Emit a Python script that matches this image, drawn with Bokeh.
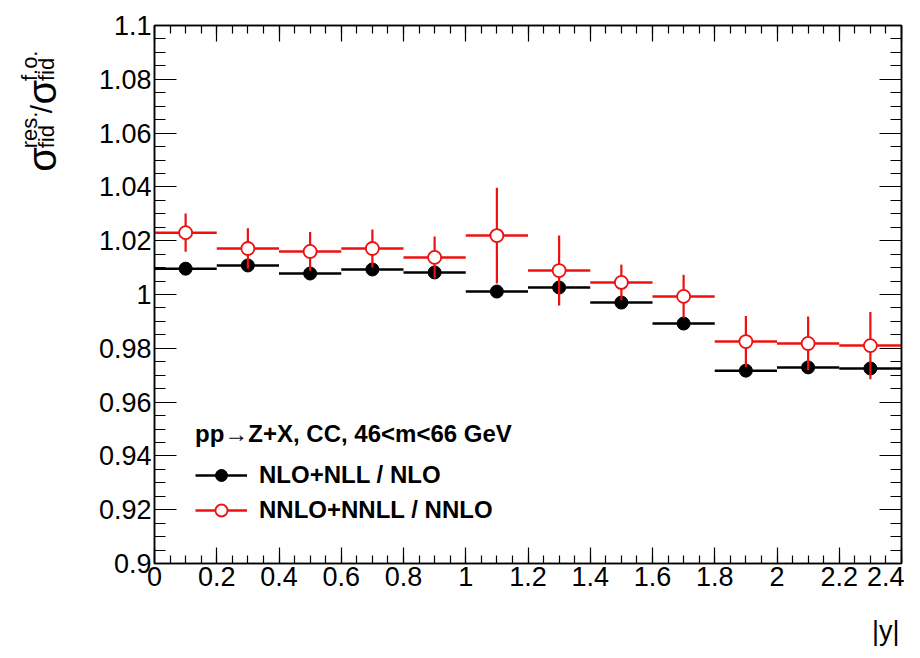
import numpy as np
from bokeh.plotting import figure
from bokeh.layouts import row, column
from bokeh.models import (Range1d, LinearAxis, FixedTicker, Label, Legend,
                          LegendItem, ColumnDataSource)
from bokeh.embed import file_html
from bokeh.resources import INLINE

# ---------------- data ----------------
bin_low = [0.0, 0.2, 0.4, 0.6, 0.8, 1.0, 1.2, 1.4, 1.6, 1.8, 2.0, 2.2]
bin_high = [0.2, 0.4, 0.6, 0.8, 1.0, 1.2, 1.4, 1.6, 1.8, 2.0, 2.2, 2.4]
bin_center = [0.1, 0.3, 0.5, 0.7, 0.9, 1.1, 1.3, 1.5, 1.7, 1.9, 2.1, 2.3]

nlo_nll_ratio = [1.0096, 1.0108, 1.0078, 1.0093, 1.0082, 1.0011,
                 1.0026, 0.9970, 0.9892, 0.9717, 0.9729, 0.9725]
nnlo_nnll_ratio = [1.0230, 1.0171, 1.0160, 1.0171, 1.0138, 1.0219,
                   1.0089, 1.0045, 0.9993, 0.9825, 0.9818, 0.9810]
nnlo_nnll_err = [0.0071, 0.0075, 0.0072, 0.0071, 0.0078, 0.0178,
                 0.0130, 0.0066, 0.0080, 0.0095, 0.0100, 0.0125]

x_ticks = [0.0, 0.2, 0.4, 0.6, 0.8, 1.0, 1.2, 1.4, 1.6, 1.8, 2.0, 2.2, 2.4]
x_tick_labels = ["0", "0.2", "0.4", "0.6", "0.8", "1", "1.2", "1.4", "1.6",
                 "1.8", "2", "2.2", "2.4"]
y_ticks = [0.9, 0.92, 0.94, 0.96, 0.98, 1.0, 1.02, 1.04, 1.06, 1.08, 1.1]
y_tick_labels = ["0.9", "0.92", "0.94", "0.96", "0.98", "1", "1.02", "1.04",
                 "1.06", "1.08", "1.1"]

legend_title = "pp\u2192Z+X, CC, 46<m<66 GeV"
label_nlo = "NLO+NLL / NLO"
label_nnlo = "NNLO+NNLL / NNLO"
x_title = "|y|"
# y title: sigma^{res.}_{fid} / sigma^{f.o.}_{fid}
y_title_parts = ["\u03c3", "res.", "fid", "/", "\u03c3", "f.o.", "fid"]

RED = "#ee1010"
FONT = "Liberation Sans"

x_minor = [round(v, 3) for v in np.arange(0.0, 2.4001, 0.05)]
y_minor = [round(v, 4) for v in np.arange(0.9, 1.10001, 0.005)]

MAIN_H = 600
LEFT_W = 84
# ---------------- main figure ----------------
p = figure(width=904 - LEFT_W, height=MAIN_H, x_range=Range1d(0, 2.4),
           y_range=Range1d(0.9, 1.1), output_backend="svg",
           toolbar_location=None, min_border_left=154 - LEFT_W,
           min_border_right=3, min_border_top=25,
           min_border_bottom=MAIN_H - 563)
p.xgrid.visible = False
p.ygrid.visible = False
p.outline_line_color = "black"
p.outline_line_width = 1.5
p.background_fill_color = "white"
p.border_fill_color = "white"


def style_axis(ax, ticks, minor, labels, major_len, minor_len, show_labels):
    ax.ticker = FixedTicker(ticks=ticks, minor_ticks=minor)
    ax.major_tick_in = major_len
    ax.major_tick_out = 0
    ax.minor_tick_in = minor_len
    ax.minor_tick_out = 0
    ax.major_tick_line_color = "black"
    ax.minor_tick_line_color = "black"
    ax.major_tick_line_width = 1.2
    ax.minor_tick_line_width = 1.2
    ax.axis_line_color = "black"
    ax.axis_line_width = 1.5
    ax.major_label_text_font = FONT
    ax.major_label_text_color = "black"
    if show_labels:
        ax.major_label_text_font_size = "27px"
        ax.major_label_standoff = 3
        ax.major_label_overrides = {t: l for t, l in zip(ticks, labels)}
    else:
        ax.major_label_text_font_size = "0px"
        ax.major_label_standoff = 0
        ax.major_label_overrides = {t: "" for t in ticks}


style_axis(p.xaxis[0], x_ticks, x_minor, x_tick_labels, 16, 8, True)
style_axis(p.yaxis[0], y_ticks, y_minor, y_tick_labels, 22, 11, True)

top_ax = LinearAxis()
style_axis(top_ax, x_ticks, x_minor, x_tick_labels, 16, 8, False)
p.add_layout(top_ax, "above")
right_ax = LinearAxis()
style_axis(right_ax, y_ticks, y_minor, y_tick_labels, 22, 11, False)
p.add_layout(right_ax, "right")

# ---------------- glyphs ----------------
src_nlo = ColumnDataSource(dict(x=bin_center, lo=bin_low, hi=bin_high,
                                y=nlo_nll_ratio))
src_nnlo = ColumnDataSource(dict(
    x=bin_center, lo=bin_low, hi=bin_high, y=nnlo_nnll_ratio,
    ylo=[v - e for v, e in zip(nnlo_nnll_ratio, nnlo_nnll_err)],
    yhi=[v + e for v, e in zip(nnlo_nnll_ratio, nnlo_nnll_err)]))

r_nlo_line = p.segment(x0="lo", y0="y", x1="hi", y1="y", source=src_nlo,
                       line_color="black", line_width=2.5)
r_nlo_pts = p.scatter("x", "y", source=src_nlo, marker="circle", size=13,
                      fill_color="black", line_color="black")
r_nnlo_line = p.segment(x0="lo", y0="y", x1="hi", y1="y", source=src_nnlo,
                        line_color=RED, line_width=2.5)
p.segment(x0="x", y0="ylo", x1="x", y1="yhi", source=src_nnlo,
          line_color=RED, line_width=2.2)
r_nnlo_pts = p.scatter("x", "y", source=src_nnlo, marker="circle", size=13,
                       fill_color="white", line_color=RED, line_width=1.8)

legend = Legend(items=[LegendItem(label=label_nlo,
                                  renderers=[r_nlo_line, r_nlo_pts]),
                       LegendItem(label=label_nnlo,
                                  renderers=[r_nnlo_line, r_nnlo_pts])],
                title=legend_title, location=(41, 38))
legend.title_text_font = FONT
legend.title_text_font_size = "24px"
legend.title_text_font_style = "bold"
legend.title_text_color = "black"
legend.title_standoff = 12
legend.label_text_font = FONT
legend.label_text_font_size = "24px"
legend.label_text_font_style = "bold"
legend.label_text_color = "black"
legend.glyph_width = 52
legend.glyph_height = 30
legend.label_height = 30
legend.label_standoff = 12
legend.spacing = 5
legend.padding = 0
legend.margin = 0
legend.border_line_color = None
legend.background_fill_alpha = 0
p.add_layout(legend)

# ---------------- y-axis title panel ----------------
left = figure(width=LEFT_W, height=MAIN_H, x_range=Range1d(0, LEFT_W),
              y_range=Range1d(0, MAIN_H), output_backend="svg",
              toolbar_location=None, x_axis_type=None, y_axis_type=None,
              min_border=0)
left.xgrid.visible = False
left.ygrid.visible = False
left.outline_line_color = None

ANG = np.pi / 2
# (x from panel left, y measured from panel top, font size)
part_pos = [(41, 163, "40px"), (29, 137, "22px"), (46, 137, "22px"),
            (41, 98, "30px"), (41, 88, "40px"), (29, 62, "22px"),
            (46, 62, "22px")]
for txt, (lx, ly, fs) in zip(y_title_parts, part_pos):
    left.add_layout(Label(x=lx, y=MAIN_H - ly, text=txt, angle=ANG,
                          text_align="left", text_baseline="alphabetic",
                          text_font=FONT, text_font_size=fs,
                          text_color="black"))

# ---------------- x-axis title panel ----------------
BOT_H = 48
bottom = figure(width=904, height=BOT_H, x_range=Range1d(0, 904),
                y_range=Range1d(0, BOT_H), output_backend="svg",
                toolbar_location=None, x_axis_type=None, y_axis_type=None,
                min_border=0)
bottom.xgrid.visible = False
bottom.ygrid.visible = False
bottom.outline_line_color = None
bottom.add_layout(Label(x=899, y=18, text=x_title, text_align="right",
                        text_baseline="middle", text_font=FONT,
                        text_font_size="27px", text_color="black"))

layout = column(row(left, p), bottom)
open("out.html", "w").write(file_html(layout, INLINE))
